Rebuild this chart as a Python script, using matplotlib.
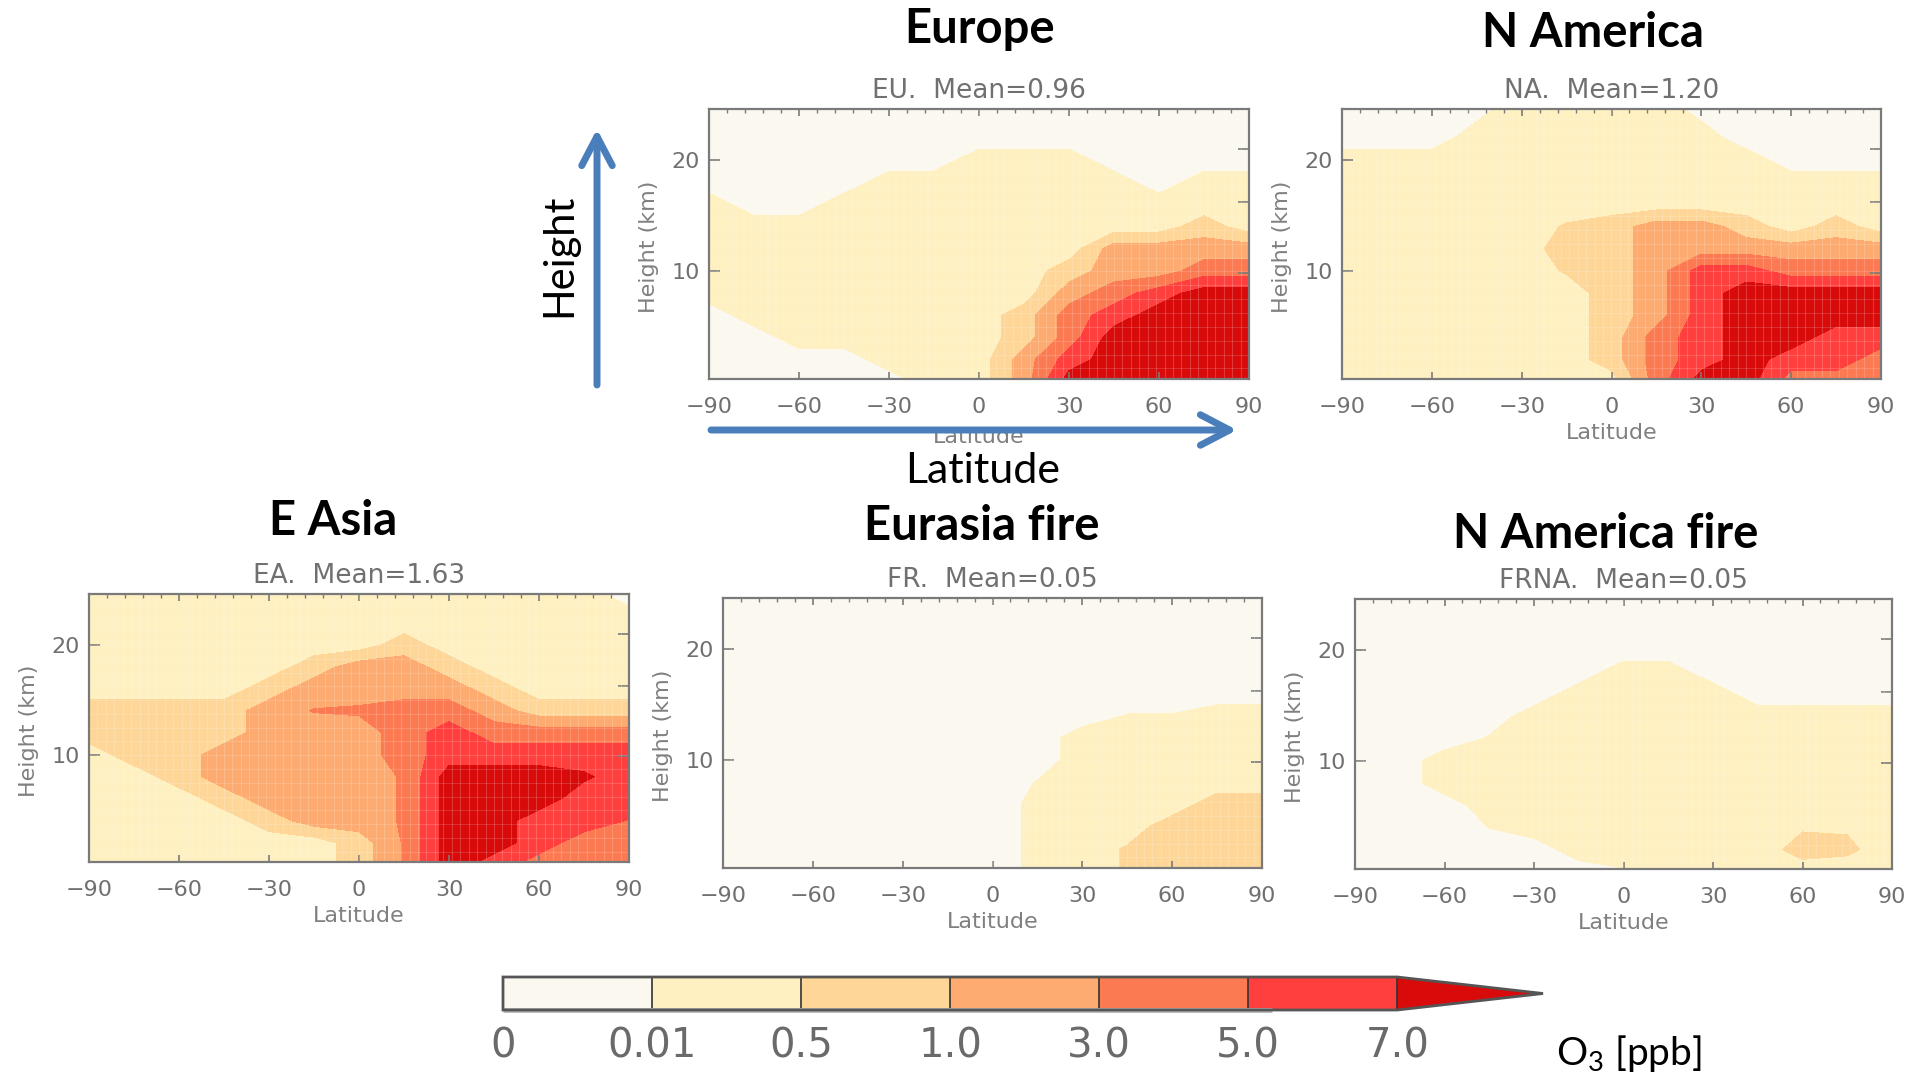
import numpy as np
import matplotlib.pyplot as plt
from matplotlib.colors import ListedColormap, BoundaryNorm
from matplotlib.cm import ScalarMappable
from matplotlib.patches import FancyArrowPatch

plt.rcParams['mathtext.default'] = 'regular'

FIG_W, FIG_H = 1907, 1076

# grid of the zonal mean fields
lat = [-90, -75, -60, -45, -30, -15, 0, 15, 30, 45, 60, 75, 90]
height = [0, 2, 4, 6, 8, 10, 12, 14, 16, 18, 20, 22, 25]

o3_levels = [0, 0.01, 0.5, 1.0, 3.0, 5.0, 7.0]
o3_labels = ['0', '0.01', '0.5', '1.0', '3.0', '5.0', '7.0']
o3_colors = ['#fbf8ef', '#fef0c0', '#fed698', '#fdab70', '#fc7a52', '#fe3f3d', '#d80a0a']

titles = ['Europe', 'N America', 'E Asia', 'Eurasia fire', 'N America fire']
tags = ['EU', 'NA', 'EA', 'FR', 'FRNA']
means = [0.96, 1.20, 1.63, 0.05, 0.05]

# O3 (ppb), one list per latitude, heights from bottom to top
eu_o3 = [
    [0.005, 0.005, 0.005, 0.005, 0.25, 0.25, 0.25, 0.25, 0.25, 0.005, 0.005, 0.005, 0.005],
    [0.005, 0.005, 0.005, 0.25, 0.25, 0.25, 0.25, 0.25, 0.005, 0.005, 0.005, 0.005, 0.005],
    [0.005, 0.005, 0.25, 0.25, 0.25, 0.25, 0.25, 0.25, 0.005, 0.005, 0.005, 0.005, 0.005],
    [0.005, 0.005, 0.25, 0.25, 0.25, 0.25, 0.25, 0.25, 0.25, 0.005, 0.005, 0.005, 0.005],
    [0.005, 0.25, 0.25, 0.25, 0.25, 0.25, 0.25, 0.25, 0.25, 0.25, 0.005, 0.005, 0.005],
    [0.25, 0.25, 0.25, 0.25, 0.25, 0.25, 0.25, 0.25, 0.25, 0.25, 0.005, 0.005, 0.005],
    [0.25, 0.25, 0.25, 0.25, 0.25, 0.25, 0.25, 0.25, 0.25, 0.25, 0.25, 0.005, 0.005],
    [2.0, 2.0, 0.75, 0.75, 0.25, 0.25, 0.25, 0.25, 0.25, 0.25, 0.25, 0.005, 0.005],
    [8.0, 6.0, 4.0, 4.0, 2.0, 0.75, 0.25, 0.25, 0.25, 0.25, 0.25, 0.005, 0.005],
    [8.0, 8.0, 8.0, 6.0, 4.0, 2.0, 2.0, 0.25, 0.25, 0.25, 0.005, 0.005, 0.005],
    [8.0, 8.0, 8.0, 8.0, 6.0, 2.0, 2.0, 0.25, 0.25, 0.005, 0.005, 0.005, 0.005],
    [8.0, 8.0, 8.0, 8.0, 8.0, 4.0, 2.0, 0.75, 0.25, 0.25, 0.005, 0.005, 0.005],
    [8.0, 8.0, 8.0, 8.0, 8.0, 4.0, 2.0, 0.25, 0.25, 0.25, 0.005, 0.005, 0.005],
]

na_o3 = [
    [0.25, 0.25, 0.25, 0.25, 0.25, 0.25, 0.25, 0.25, 0.25, 0.25, 0.25, 0.005, 0.005],
    [0.25, 0.25, 0.25, 0.25, 0.25, 0.25, 0.25, 0.25, 0.25, 0.25, 0.25, 0.005, 0.005],
    [0.25, 0.25, 0.25, 0.25, 0.25, 0.25, 0.25, 0.25, 0.25, 0.25, 0.25, 0.005, 0.005],
    [0.25, 0.25, 0.25, 0.25, 0.25, 0.25, 0.25, 0.25, 0.25, 0.25, 0.25, 0.25, 0.005],
    [0.25, 0.25, 0.25, 0.25, 0.25, 0.25, 0.25, 0.25, 0.25, 0.25, 0.25, 0.25, 0.25],
    [0.25, 0.25, 0.25, 0.25, 0.25, 0.55, 0.75, 0.55, 0.25, 0.25, 0.25, 0.25, 0.25],
    [0.25, 0.75, 0.75, 0.75, 0.75, 0.75, 0.75, 0.75, 0.25, 0.25, 0.25, 0.25, 0.25],
    [4.0, 4.0, 4.0, 2.0, 2.0, 2.0, 2.0, 2.0, 0.25, 0.25, 0.25, 0.25, 0.25],
    [8.0, 6.0, 6.0, 6.0, 6.0, 6.0, 2.0, 2.0, 0.25, 0.25, 0.25, 0.25, 0.005],
    [8.0, 8.0, 8.0, 8.0, 8.0, 6.0, 2.0, 0.75, 0.25, 0.25, 0.25, 0.005, 0.005],
    [4.0, 6.0, 8.0, 8.0, 8.0, 4.0, 2.0, 0.25, 0.25, 0.25, 0.005, 0.005, 0.005],
    [4.0, 6.0, 6.0, 8.0, 8.0, 4.0, 2.0, 0.75, 0.25, 0.25, 0.005, 0.005, 0.005],
    [4.0, 4.0, 6.0, 8.0, 8.0, 4.0, 2.0, 0.25, 0.25, 0.25, 0.005, 0.005, 0.005],
]

ea_o3 = [
    [0.25, 0.25, 0.25, 0.25, 0.25, 0.25, 0.75, 0.75, 0.25, 0.25, 0.25, 0.25, 0.009],
    [0.25, 0.25, 0.25, 0.25, 0.25, 0.75, 0.75, 0.75, 0.25, 0.25, 0.25, 0.25, 0.009],
    [0.25, 0.25, 0.25, 0.25, 0.75, 0.75, 0.75, 0.75, 0.25, 0.25, 0.25, 0.25, 0.25],
    [0.25, 0.25, 0.25, 0.75, 2.0, 2.0, 0.75, 0.75, 0.25, 0.25, 0.25, 0.25, 0.25],
    [0.25, 0.25, 0.75, 2.0, 2.0, 2.0, 2.0, 2.0, 0.75, 0.25, 0.25, 0.25, 0.25],
    [0.25, 0.25, 2.0, 2.0, 2.0, 2.0, 2.0, 3.1, 2.0, 0.75, 0.25, 0.25, 0.25],
    [0.75, 0.75, 2.0, 2.0, 2.0, 2.0, 2.0, 3.3, 2.0, 2.0, 0.25, 0.25, 0.25],
    [3.2, 3.2, 3.2, 3.2, 3.2, 4.0, 4.0, 4.0, 2.0, 2.0, 0.75, 0.25, 0.25],
    [8.0, 8.0, 8.0, 8.0, 8.0, 6.0, 6.0, 4.0, 2.0, 0.75, 0.25, 0.25, 0.25],
    [6.0, 8.0, 8.0, 8.0, 8.0, 6.0, 4.0, 2.0, 0.75, 0.25, 0.25, 0.25, 0.25],
    [4.0, 6.0, 6.0, 8.0, 8.0, 6.0, 4.0, 0.75, 0.25, 0.25, 0.25, 0.25, 0.25],
    [4.0, 4.0, 6.0, 6.0, 7.3, 6.0, 4.0, 0.75, 0.25, 0.25, 0.25, 0.25, 0.1],
    [4.0, 4.0, 4.9, 6.0, 6.0, 6.0, 4.0, 0.75, 0.25, 0.25, 0.25, 0.25, 0.005],
]

fr_o3 = [
    [0.005, 0.005, 0.005, 0.005, 0.005, 0.005, 0.005, 0.005, 0.005, 0.005, 0.005, 0.005, 0.005],
    [0.005, 0.005, 0.005, 0.005, 0.005, 0.005, 0.005, 0.005, 0.005, 0.005, 0.005, 0.005, 0.005],
    [0.005, 0.005, 0.005, 0.005, 0.005, 0.005, 0.005, 0.005, 0.005, 0.005, 0.005, 0.005, 0.005],
    [0.005, 0.005, 0.005, 0.005, 0.005, 0.005, 0.005, 0.005, 0.005, 0.005, 0.005, 0.005, 0.005],
    [0.005, 0.005, 0.005, 0.005, 0.005, 0.005, 0.005, 0.005, 0.005, 0.005, 0.005, 0.005, 0.005],
    [0.005, 0.005, 0.005, 0.005, 0.005, 0.005, 0.005, 0.005, 0.005, 0.005, 0.005, 0.005, 0.005],
    [0.005, 0.005, 0.005, 0.005, 0.005, 0.005, 0.005, 0.005, 0.005, 0.005, 0.005, 0.005, 0.005],
    [0.15, 0.15, 0.15, 0.15, 0.03, 0.005, 0.005, 0.005, 0.005, 0.005, 0.005, 0.005, 0.005],
    [0.25, 0.25, 0.25, 0.25, 0.25, 0.25, 0.25, 0.005, 0.005, 0.005, 0.005, 0.005, 0.005],
    [0.55, 0.55, 0.25, 0.25, 0.25, 0.25, 0.25, 0.03, 0.005, 0.005, 0.005, 0.005, 0.005],
    [0.75, 0.75, 0.75, 0.25, 0.25, 0.25, 0.25, 0.03, 0.005, 0.005, 0.005, 0.005, 0.005],
    [0.75, 0.75, 0.75, 0.75, 0.25, 0.25, 0.25, 0.25, 0.005, 0.005, 0.005, 0.005, 0.005],
    [0.75, 0.75, 0.75, 0.75, 0.25, 0.25, 0.25, 0.25, 0.005, 0.005, 0.005, 0.005, 0.005],
]

frna_o3 = [
    [0.005, 0.005, 0.005, 0.005, 0.005, 0.005, 0.005, 0.005, 0.005, 0.005, 0.005, 0.005, 0.005],
    [0.005, 0.005, 0.005, 0.005, 0.005, 0.005, 0.005, 0.005, 0.005, 0.005, 0.005, 0.005, 0.005],
    [0.005, 0.005, 0.005, 0.005, 0.25, 0.25, 0.005, 0.005, 0.005, 0.005, 0.005, 0.005, 0.005],
    [0.005, 0.005, 0.02, 0.25, 0.25, 0.25, 0.05, 0.005, 0.005, 0.005, 0.005, 0.005, 0.005],
    [0.005, 0.005, 0.25, 0.25, 0.25, 0.25, 0.25, 0.25, 0.005, 0.005, 0.005, 0.005, 0.005],
    [0.005, 0.25, 0.25, 0.25, 0.25, 0.25, 0.25, 0.25, 0.25, 0.005, 0.005, 0.005, 0.005],
    [0.009, 0.25, 0.25, 0.25, 0.25, 0.25, 0.25, 0.25, 0.25, 0.25, 0.005, 0.005, 0.005],
    [0.25, 0.25, 0.25, 0.25, 0.25, 0.25, 0.25, 0.25, 0.25, 0.25, 0.005, 0.005, 0.005],
    [0.25, 0.25, 0.25, 0.25, 0.25, 0.25, 0.25, 0.25, 0.25, 0.005, 0.005, 0.005, 0.005],
    [0.25, 0.25, 0.25, 0.25, 0.25, 0.25, 0.25, 0.25, 0.005, 0.005, 0.005, 0.005, 0.005],
    [0.25, 0.7, 0.45, 0.25, 0.25, 0.25, 0.25, 0.25, 0.005, 0.005, 0.005, 0.005, 0.005],
    [0.25, 0.6, 0.45, 0.25, 0.25, 0.25, 0.25, 0.25, 0.005, 0.005, 0.005, 0.005, 0.005],
    [0.25, 0.25, 0.25, 0.25, 0.25, 0.25, 0.25, 0.25, 0.005, 0.005, 0.005, 0.005, 0.005],
]

fields = [eu_o3, na_o3, ea_o3, fr_o3, frna_o3]

# layout in pixels of the target picture
panel_boxes = [(709, 109, 1249, 379), (1342, 109, 1881, 379), (89, 594, 629, 862),
               (723, 598, 1262, 868), (1355, 599, 1892, 869)]
title_pos = [(980, 43), (1593, 47), (333, 535), (982, 540), (1606, 548)]

SPINE_C = '#7a7a7a'
TEXT_C = '#707070'
ARROW_C = '#4a7ebb'


def fx(x):
    return x / FIG_W


def fy(y):
    return 1 - y / FIG_H


def level_index(v):
    # position of a value on the evenly spaced colour bar
    edges = o3_levels + [9.0]
    return np.interp(v, edges, np.arange(len(edges)))


fig = plt.figure(figsize=(FIG_W / 100, FIG_H / 100), dpi=100)

for i in range(len(fields)):
    x0, y0, x1, y1 = panel_boxes[i]
    ax = fig.add_axes([fx(x0), fy(y1), (x1 - x0) / FIG_W, (y1 - y0) / FIG_H])
    z = level_index(np.array(fields[i]).T)
    ax.contourf(lat, height, z, levels=np.arange(8), colors=o3_colors)
    # faint model grid showing through the shading
    for gx in np.arange(-87.2, 90, 2.8125):
        ax.axvline(gx, color='white', lw=0.8, alpha=0.18)
    for gy in np.arange(1.2, 24, 1.25):
        ax.axhline(gy, color='white', lw=0.8, alpha=0.15)
    ax.set_xlim(-90, 90)
    ax.set_ylim(0.25, 24.6)

    ax.set_xticks([-90, -60, -30, 0, 30, 60, 90])
    ax.set_xticks(np.arange(-90, 91, 6), minor=True)
    ax.set_yticks([10, 20])
    ax.set_yticks([9.85, 16.2, 21.0], minor=True)
    ax.tick_params(axis='x', which='major', direction='in', length=5, width=1.2,
                   top=True, bottom=True, color=SPINE_C, labelsize=16,
                   labelcolor=TEXT_C, pad=13)
    ax.tick_params(axis='x', which='minor', direction='in', length=3, width=1,
                   top=True, bottom=False, color=SPINE_C)
    ax.tick_params(axis='y', which='major', direction='in', length=8, width=1.2,
                   left=True, right=False, color=SPINE_C, labelsize=16,
                   labelcolor=TEXT_C, pad=6.5)
    ax.tick_params(axis='y', which='minor', direction='in', length=8, width=1.2,
                   left=False, right=True, color=SPINE_C)
    for s in ax.spines.values():
        s.set_color(SPINE_C)
        s.set_linewidth(1.6)

    ax.set_xlabel('Latitude', fontsize=16, color='#808080', va='center')
    ax.xaxis.set_label_coords(0.5, -0.215 if i == 0 else -0.2)
    ax.set_ylabel('Height (km)', fontsize=16, color='#808080', va='center')
    ax.yaxis.set_label_coords(-0.112, 0.49)
    ax.set_title(f'{tags[i]}.  Mean={means[i]:.2f}', fontsize=19, color=TEXT_C, pad=8)

    tx, ty = title_pos[i]
    fig.text(fx(tx), fy(ty), titles[i], ha='center', va='baseline', fontsize=34,
             fontweight='bold', family='Lato')

# explanatory arrows on the Europe panel
for a, b in [((597, 385), (597, 129)), ((711, 430), (1237, 430))]:
    arrow = FancyArrowPatch((fx(a[0]), fy(a[1])), (fx(b[0]), fy(b[1])),
                            transform=fig.transFigure,
                            arrowstyle='->,head_length=1.05,head_width=0.55',
                            mutation_scale=20, lw=5, color=ARROW_C,
                            shrinkA=0, shrinkB=0, capstyle='round', joinstyle='round')
    fig.add_artist(arrow)

fig.text(fx(983), fy(483), 'Latitude', ha='center', va='baseline', fontsize=31, family='Lato')
fig.text(fx(559), fy(255), 'Height', rotation=90, ha='center', va='center',
         fontsize=30, family='Lato')

# colour bar, the axes holds the bar and its end triangle
cax = fig.add_axes([fx(503), fy(1010), (1543 - 503) / FIG_W, 33 / FIG_H])
cmap = ListedColormap(o3_colors[:-1])
cmap.set_over(o3_colors[-1])
norm = BoundaryNorm(o3_levels, cmap.N)
cb = fig.colorbar(ScalarMappable(norm=norm, cmap=cmap), cax=cax, orientation='horizontal',
                  extend='max', extendfrac=0.163, spacing='uniform', ticks=o3_levels,
                  drawedges=True)
cb.set_ticklabels(o3_labels)
cb.outline.set_edgecolor('#555555')
cb.outline.set_linewidth(2)
cb.dividers.set_color('#333333')
cb.dividers.set_linewidth(1.2)
cax.plot([0, 894 / 1040], [0, 0], transform=cax.transAxes, color='#b8b8b8', lw=3.5,
         clip_on=False, solid_capstyle='butt')
cax.tick_params(length=0, pad=12, labelsize=29, labelcolor='#6a6a6a')
for t in cax.get_xticklabels():
    t.set_family(['Liberation Sans Narrow', 'DejaVu Sans'])

fig.text(fx(1556), fy(1065), 'O$_3$ [ppb]', ha='left', va='baseline', fontsize=28, family='Lato')

fig.savefig('out.png', dpi=100)
